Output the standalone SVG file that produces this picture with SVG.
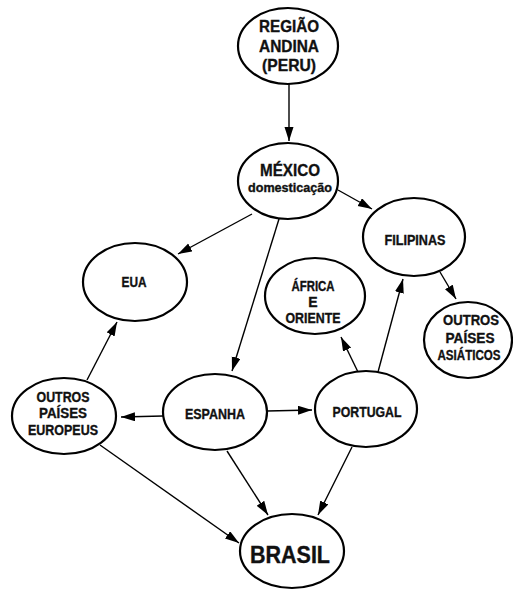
<svg xmlns="http://www.w3.org/2000/svg" width="513" height="590" viewBox="0 0 513 590">
<style>
.n{fill:#fff;stroke:#000;stroke-width:2.2}
.t{font-family:"Liberation Sans",Arial,sans-serif;font-weight:bold;fill:#111;stroke:#111;stroke-width:0.35;text-anchor:middle}
.c line{stroke:#000;stroke-width:1.4;marker-end:url(#ah)}
</style>
<defs>
<marker id="ah" markerUnits="userSpaceOnUse" markerWidth="15" markerHeight="10" refX="14" refY="4.5" orient="auto">
<path d="M0,0 L14,4.5 L0,9 z" fill="#000"/>
</marker>
</defs>
<rect width="513" height="590" fill="#fff"/>
<g id="connectors" class="c">
<line x1="289" y1="84" x2="289" y2="141"/>
<line x1="338" y1="190" x2="372" y2="209"/>
<line x1="252" y1="214" x2="178" y2="254"/>
<line x1="279" y1="219" x2="232" y2="371"/>
<line x1="163" y1="416" x2="121" y2="417"/>
<line x1="267" y1="411" x2="312" y2="410"/>
<line x1="87" y1="380" x2="117" y2="322"/>
<line x1="358" y1="372" x2="341" y2="337"/>
<line x1="378" y1="372" x2="403" y2="279"/>
<line x1="440" y1="272" x2="456" y2="299"/>
<line x1="100" y1="445" x2="239" y2="543"/>
<line x1="227" y1="451" x2="268" y2="515"/>
<line x1="352" y1="447" x2="318" y2="515"/>
</g>
<g id="regiao">
<ellipse class="n" cx="288" cy="46" rx="50" ry="38"/>
<text class="t" font-size="16.5" x="289" y="32" textLength="60" lengthAdjust="spacingAndGlyphs">REGIÃO</text>
<text class="t" font-size="16.5" x="289" y="52" textLength="60" lengthAdjust="spacingAndGlyphs">ANDINA</text>
<text class="t" font-size="16.5" x="289" y="71" textLength="54" lengthAdjust="spacingAndGlyphs">(PERU)</text>
</g>
<g id="mexico">
<ellipse class="n" cx="288" cy="181" rx="50" ry="38"/>
<text class="t" font-size="17" x="290" y="176" textLength="60" lengthAdjust="spacingAndGlyphs">MÉXICO</text>
<text class="t" font-size="12.5" x="290" y="192" textLength="84" lengthAdjust="spacingAndGlyphs">domesticação</text>
</g>
<g id="filipinas">
<ellipse class="n" cx="414" cy="237" rx="51" ry="39"/>
<text class="t" font-size="14" x="415" y="245" textLength="61" lengthAdjust="spacingAndGlyphs">FILIPINAS</text>
</g>
<g id="asiaticos">
<ellipse class="n" cx="468" cy="340" rx="44" ry="38"/>
<text class="t" font-size="14" x="471" y="325" textLength="56" lengthAdjust="spacingAndGlyphs">OUTROS</text>
<text class="t" font-size="14" x="470" y="343" textLength="49" lengthAdjust="spacingAndGlyphs">PAÍSES</text>
<text class="t" font-size="14" x="469" y="360" textLength="63" lengthAdjust="spacingAndGlyphs">ASIÁTICOS</text>
</g>
<g id="eua">
<ellipse class="n" cx="135" cy="282" rx="52" ry="39"/>
<text class="t" font-size="14" x="134" y="287" textLength="25" lengthAdjust="spacingAndGlyphs">EUA</text>
</g>
<g id="africa">
<ellipse class="n" cx="315" cy="296" rx="50" ry="38"/>
<text class="t" font-size="14" x="313" y="291" textLength="43" lengthAdjust="spacingAndGlyphs">ÁFRICA</text>
<text class="t" font-size="14" x="313" y="307">E</text>
<text class="t" font-size="14" x="313" y="323" textLength="55" lengthAdjust="spacingAndGlyphs">ORIENTE</text>
</g>
<g id="europeus">
<ellipse class="n" cx="64" cy="416" rx="52" ry="38"/>
<text class="t" font-size="14" x="63" y="402" textLength="53" lengthAdjust="spacingAndGlyphs">OUTROS</text>
<text class="t" font-size="14" x="63" y="418" textLength="48" lengthAdjust="spacingAndGlyphs">PAÍSES</text>
<text class="t" font-size="14" x="63" y="435" textLength="70" lengthAdjust="spacingAndGlyphs">EUROPEUS</text>
</g>
<g id="espanha">
<ellipse class="n" cx="215" cy="412" rx="52" ry="38"/>
<text class="t" font-size="15" x="215" y="419" textLength="60" lengthAdjust="spacingAndGlyphs">ESPANHA</text>
</g>
<g id="portugal">
<ellipse class="n" cx="366" cy="409" rx="51" ry="38"/>
<text class="t" font-size="14" x="367" y="417" textLength="69" lengthAdjust="spacingAndGlyphs">PORTUGAL</text>
</g>
<g id="brasil">
<ellipse class="n" cx="292" cy="551" rx="52" ry="37"/>
<text class="t" font-size="23" x="290" y="563" textLength="80" lengthAdjust="spacingAndGlyphs">BRASIL</text>
</g>
</svg>
